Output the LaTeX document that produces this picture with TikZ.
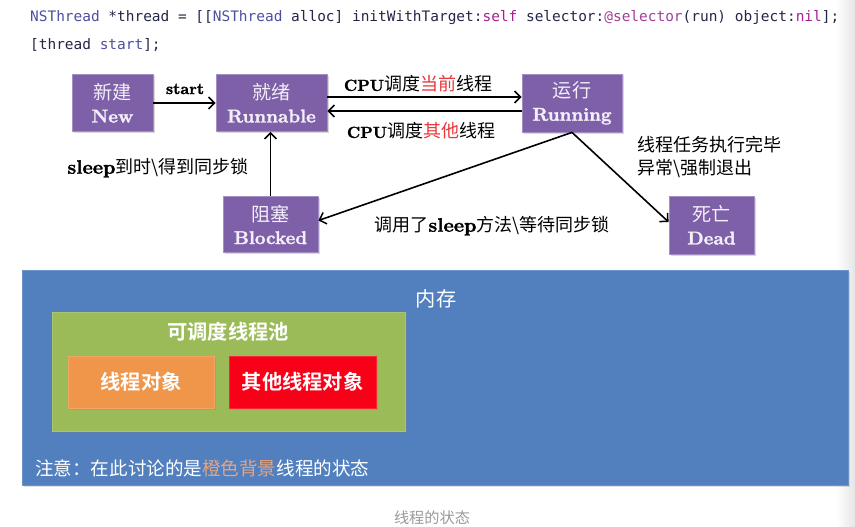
\documentclass[tikz,border=0pt]{standalone}
\usepackage{fontspec}
\newfontfamily\latb{lmroman10-bold.otf}[FakeBold=1.6]
\newfontfamily\cjk[Scale=1.125]{Noto Sans CJK SC}
\newfontfamily\cjkb[Scale=1.125]{Noto Sans CJK SC Bold}
\newfontfamily\codefont{DejaVu Sans Mono}
\usetikzlibrary{arrows.meta,shadows}
\definecolor{purp}{HTML}{7D60A8}
\definecolor{purpb}{HTML}{A48FC4}
\definecolor{boxtxt}{HTML}{F3EEF8}
\definecolor{memblue}{HTML}{5280BE}
\definecolor{poolgreen}{HTML}{9BBB59}
\definecolor{objorange}{HTML}{F0964A}
\definecolor{objred}{HTML}{F70018}
\definecolor{notec}{HTML}{E9A27A}
\definecolor{hl}{HTML}{E8383D}
\definecolor{codetxt}{HTML}{262648}
\definecolor{cls}{HTML}{4F4FA0}
\definecolor{kw}{HTML}{A8208F}
\definecolor{kw2}{HTML}{A0409A}
\definecolor{captc}{HTML}{9A9A9A}
\newcommand\boxlat[1]{{\fontsize{18.5}{23}\selectfont\latb #1}}
\newcommand\slp{{\fontsize{19.5}{23}\selectfont\latb sleep}}
\begin{document}
\begin{tikzpicture}[x=1pt,y=-1pt,
  state/.style={draw=purpb,line width=0.8pt,fill=purp,text=boxtxt,align=center,
    inner sep=0pt,font=\fontsize{17}{23}\selectfont,
    drop shadow={opacity=0.3,shadow xshift=1.5pt,shadow yshift=-1.5pt}},
  flat/.style={inner sep=0pt,draw=#1!85!white,line width=0.6pt,fill=#1,
    drop shadow={opacity=0.25,shadow xshift=1.5pt,shadow yshift=-1.5pt}},
  lbl/.style={inner sep=0pt,font=\fontsize{16}{23}\selectfont,text=black},
  code/.style={inner sep=0pt,font=\codefont\fontsize{14.45}{17}\selectfont,text=codetxt},
  wtxt/.style={inner sep=0pt,text=white,font=\fontsize{18}{22}\selectfont},
  arr/.style={-{Straight Barb[length=6pt,width=12pt,line width=1.5pt]},line width=1.6pt,black}
]
\useasboundingbox (0,0) rectangle (855,527);
\fill[white] (0,0) rectangle (855,527);
\shade[left color=white,right color=black!10] (836,0) rectangle (855,527);

% code
\node[code,anchor=base west] (l1) at (30,22) {\textcolor{cls}{NSThread} *thread = [[\textcolor{cls}{NSThread} alloc] initWithTarget:\textcolor{kw}{self} selector:\textcolor{kw2}{@selector}(run) object:\textcolor{kw}{nil}];};
\node[code,anchor=base west] (l2) at (30,50) {[thread \textcolor{cls}{start}];};

% states
\node[state,minimum width=81pt,minimum height=57pt] (new) at (112.5,103) {{\cjk 新建}\\\boxlat{New}};
\node[state,minimum width=111pt,minimum height=57pt] (runnable) at (271.5,103) {{\cjk 就绪}\\\boxlat{Runnable}};
\node[state,minimum width=100pt,minimum height=58pt] (running) at (572,103) {{\cjk 运行}\\\boxlat{Running}};
\node[state,minimum width=95pt,minimum height=56pt] (blocked) at (270.5,224.5) {{\cjk 阻塞}\\\boxlat{Blocked}};
\node[state,minimum width=85pt,minimum height=58pt] (dead) at (711.5,225) {{\cjk 死亡}\\\boxlat{Dead}};

% arrows
\draw[arr] (new) -- (runnable);
\draw[arr] ([yshift=6pt]runnable.east) -- ([yshift=6pt]running.west);
\draw[arr] ([yshift=-8pt]running.west) -- ([yshift=-8pt]runnable.east);
\draw[arr] (blocked.north) -- (blocked.north |- runnable.south);
\draw[arr] (running.south) -- ([yshift=4pt]blocked.east);
\draw[arr] (running.south) -- ([yshift=3pt]dead.west);

% labels
\node[lbl] (lstart) at (185,89) {\latb start};
\node[lbl] (lcur) at (418,84) {{\latb CPU}{\cjk 调度\textcolor{hl}{当前}线程}};
\node[lbl] (loth) at (421,131) {{\latb CPU}{\cjk 调度\textcolor{hl}{其他}线程}};
\node[lbl] (lsleep) at (158,168) {\slp{\cjk 到时\textbackslash 得到同步锁}};
\node[lbl] (lcall) at (492,226) {{\cjk 调用了}\slp{\cjk 方法\textbackslash 等待同步锁}};
\node[lbl,anchor=north west,align=left] (lend) at (637,136) {\cjk 线程任务执行完毕\\\cjk 异常\textbackslash 强制退出};

% memory
\node[flat=memblue,minimum width=826pt,minimum height=215pt] (mem) at (435,377.5) {};
\node[wtxt] (memt) at (436,299) {\cjk 内存};
\node[flat=poolgreen,minimum width=353pt,minimum height=119pt] (pool) at (228.5,371.5) {};
\node[wtxt] (poolt) at (228,332) {\cjkb 可调度线程池};
\node[flat=objorange,minimum width=146pt,minimum height=52pt,wtxt] (obj) at (141,382) {\cjkb 线程对象};
\node[flat=objred,minimum width=147pt,minimum height=52pt,wtxt] (oobj) at (302.5,382) {\cjkb 其他线程对象};
\node[wtxt,anchor=west,font=\fontsize{16.5}{20}\selectfont] (note) at (35,468) {\cjk 注意：在此讨论的是\textcolor{notec}{橙色背景}线程的状态};

% caption
\node[inner sep=0pt,text=captc,font=\fontsize{13.5}{16}\selectfont] (cap) at (432,518) {\cjk 线程的状态};
\end{tikzpicture}
\end{document}
